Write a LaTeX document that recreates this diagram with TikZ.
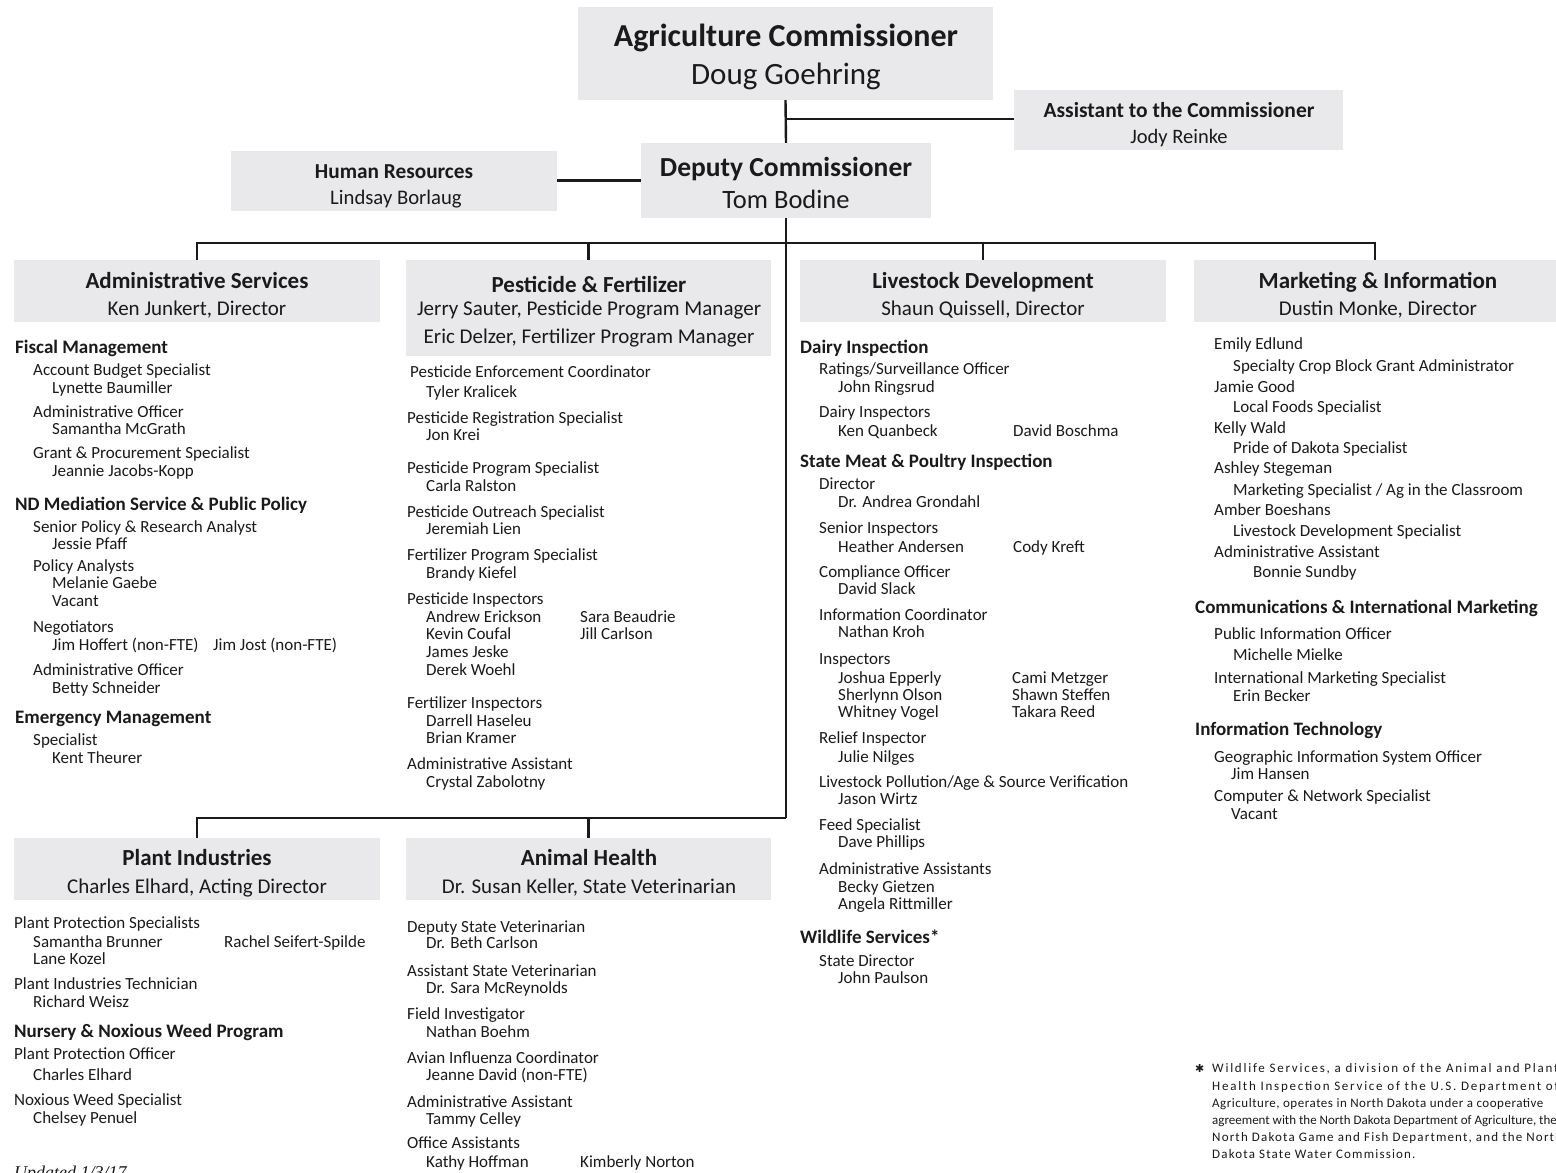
\documentclass[tikz,border=0pt]{standalone}
\usepackage{fontspec}
\setmainfont{Carlito}
\newfontfamily\dejavu{DejaVu Sans}
\newfontfamily\serifit{Liberation Serif}
\usetikzlibrary{fit}
\definecolor{boxgray}{RGB}{233,233,235}
\definecolor{ink}{RGB}{26,26,26}
\tikzset{
  box/.style={fill=boxgray, inner sep=0pt, draw=none},
  conn/.style={draw=ink, line width=2.4pt},
  bigt/.style={anchor=base, inner sep=0pt, text=ink, font=\fontsize{32}{36}\selectfont\bfseries},
  bign/.style={anchor=base, inner sep=0pt, text=ink, font=\fontsize{31}{36}\selectfont},
  bt/.style={anchor=base, inner sep=0pt, text=ink, font=\fontsize{23}{26}\selectfont\bfseries},
  bs/.style={anchor=base, inner sep=0pt, text=ink, font=\fontsize{21}{24}\selectfont},
  itr/.style={anchor=base west, inner sep=0pt, text=ink, font=\fontsize{17}{20}\selectfont},
  ith/.style={anchor=base west, inner sep=0pt, text=ink, font=\fontsize{19}{22}\selectfont\bfseries},
  fn/.style={anchor=base west, inner sep=0pt, text=ink, font=\fontsize{13}{15}\selectfont},
}
\newcommand\entries[2]{\foreach \xx/\yy/\ss/\tt [count=\i] in {#2}{\node[it\ss] (#1-\i) at (\xx,\yy) {\tt};}}
\begin{document}
\begin{tikzpicture}[x=1pt,y=-1pt]
\useasboundingbox (0,0) rectangle (1556,1173);
\fill[white] (0,0) rectangle (1556,1173);

% ---------- boxes ----------
\node[box, fit={(578,7) (993,100)}] (ag) {};
\node[box, fit={(1014,90) (1343,150)}] (asst) {};
\node[box, fit={(641,143) (931,218)}] (dep) {};
\node[box, fit={(231,151) (557,211)}] (hr) {};
\node[box, fit={(14,260) (380,322)}] (adm) {};
\node[box, fit={(406,260) (771,356)}] (pf) {};
\node[box, fit={(800,260) (1166,322)}] (ld) {};
\node[box, fit={(1194,260) (1556,322)}] (mk) {};
\node[box, fit={(14,838) (380,900)}] (pi) {};
\node[box, fit={(406,838) (771,900)}] (ah) {};

% ---------- box texts ----------
\node[bigt] (agt) at (786,46) {Agriculture Commissioner};
\node[bign] (agn) at (786,84) {Doug Goehring};
\node[bt, font=\fontsize{21.5}{24}\selectfont\bfseries] (asstt) at (1179,117) {Assistant to the Commissioner};
\node[bs, font=\fontsize{20.5}{24}\selectfont] (asstn) at (1179,143) {Jody Reinke};
\node[bt, font=\fontsize{27.5}{30}\selectfont\bfseries] (dept) at (786,176) {Deputy Commissioner};
\node[bs, font=\fontsize{26.5}{30}\selectfont] (depn) at (786,208) {Tom Bodine};
\node[bt, font=\fontsize{21.3}{24}\selectfont\bfseries] (hrt) at (394,178) {Human Resources};
\node[bs, font=\fontsize{20.7}{24}\selectfont] (hrn) at (396,204) {Lindsay Borlaug};

\node[bt] (admt) at (197,288) {Administrative Services};
\node[bs] (admn) at (197,315) {Ken Junkert, Director};
\node[bt] (pft) at (589,292) {Pesticide \& Fertilizer};
\node[bs] (pfn1) at (589,315) {Jerry Sauter, Pesticide Program Manager};
\node[bs] (pfn2) at (589,343) {Eric Delzer, Fertilizer Program Manager};
\node[bt] (ldt) at (983,288) {Livestock Development};
\node[bs] (ldn) at (983,315) {Shaun Quissell, Director};
\node[bt] (mkt) at (1378,288) {Marketing \& Information};
\node[bs] (mkn) at (1378,315) {Dustin Monke, Director};
\node[bt] (pit) at (197,865) {Plant Industries};
\node[bs] (pin) at (197,893) {Charles Elhard, Acting Director};
\node[bt] (aht) at (589,865) {Animal Health};
\node[bs] (ahn) at (589,893) {Dr. Susan Keller, State Veterinarian};

% ---------- connectors ----------
\coordinate (jA) at (786,119);
\coordinate (jT) at (786,243);
\coordinate (jB) at (786,818);
\draw[conn] (ag.south) -- (dep.north);
\draw[conn] (jA) -- (jA -| asst.west);
\draw[conn] (hr.east |- dep.west) -- (dep.west);
\draw[conn] (dep.south) -- (jB);
\draw[conn] (adm.north) |- (jT) -- (jT -| mk.north) -- (mk.north);
\draw[conn] (pf.north) -- (pf.north |- jT);
\draw[conn] (ld.north) -- (ld.north |- jT);
\draw[conn] (pi.north) |- (jB);
\draw[conn] (ah.north) -- (ah.north |- jB);

% ---------- Administrative Services ----------
\entries{a}{15/353/h/Fiscal Management,
33/375/r/Account Budget Specialist,
52/393/r/Lynette Baumiller,
33/417/r/Administrative Officer,
52/434/r/Samantha McGrath,
33/458/r/Grant \& Procurement Specialist,
52/476/r/Jeannie Jacobs-Kopp,
15/510/h/ND Mediation Service \& Public Policy,
33/532/r/Senior Policy \& Research Analyst,
52/549/r/Jessie Pfaff,
33/571/r/Policy Analysts,
52/588/r/Melanie Gaebe,
52/606/r/Vacant,
33/632/r/Negotiators,
52/650/r/Jim Hoffert (non-FTE),
213/650/r/Jim Jost (non-FTE),
33/675/r/Administrative Officer,
52/693/r/Betty Schneider,
15/723/h/Emergency Management,
33/745/r/Specialist,
52/763/r/Kent Theurer}

% ---------- Pesticide & Fertilizer ----------
\entries{p}{410/377/r/Pesticide Enforcement Coordinator,
426/397/r/Tyler Kralicek,
407/423/r/Pesticide Registration Specialist,
426/440/r/Jon Krei,
407/473/r/Pesticide Program Specialist,
426/491/r/Carla Ralston,
407/517/r/Pesticide Outreach Specialist,
426/534/r/Jeremiah Lien,
407/560/r/Fertilizer Program Specialist,
426/578/r/Brandy Kiefel,
407/604/r/Pesticide Inspectors,
426/622/r/Andrew Erickson,
580/622/r/Sara Beaudrie,
426/639/r/Kevin Coufal,
580/639/r/Jill Carlson,
426/657/r/James Jeske,
426/675/r/Derek Woehl,
407/708/r/Fertilizer Inspectors,
426/726/r/Darrell Haseleu,
426/743/r/Brian Kramer,
407/769/r/Administrative Assistant,
426/787/r/Crystal Zabolotny}

% ---------- Livestock Development ----------
\entries{l}{800/353/h/Dairy Inspection,
819/374/r/{Ratings/Surveillance Officer},
838/392/r/John Ringsrud,
819/417/r/Dairy Inspectors,
838/436/r/Ken Quanbeck,
1013/436/r/David Boschma,
800/467/h/State Meat \& Poultry Inspection,
819/489/r/Director,
838/507/r/Dr. Andrea Grondahl,
819/533/r/Senior Inspectors,
838/552/r/Heather Andersen,
1013/552/r/Cody Kreft,
819/577/r/Compliance Officer,
838/594/r/David Slack,
819/620/r/Information Coordinator,
838/637/r/Nathan Kroh,
819/664/r/Inspectors,
838/683/r/Joshua Epperly,
1012/683/r/Cami Metzger,
838/700/r/Sherlynn Olson,
1012/700/r/Shawn Steffen,
838/717/r/Whitney Vogel,
1012/717/r/Takara Reed,
819/743/r/Relief Inspector,
838/762/r/Julie Nilges,
819/787/r/{Livestock Pollution/Age \& Source Verification},
838/804/r/Jason Wirtz,
819/830/r/Feed Specialist,
838/847/r/Dave Phillips,
819/874/r/Administrative Assistants,
838/892/r/Becky Gietzen,
838/909/r/Angela Rittmiller,
800/943/h/Wildlife Services*,
819/966/r/State Director,
838/983/r/John Paulson}

% ---------- Marketing & Information ----------
\entries{m}{1214/349/r/Emily Edlund,
1233/371/r/Specialty Crop Block Grant Administrator,
1214/392/r/Jamie Good,
1233/412/r/Local Foods Specialist,
1214/433/r/Kelly Wald,
1233/453/r/Pride of Dakota Specialist,
1214/473/r/Ashley Stegeman,
1233/495/r/{Marketing Specialist / Ag in the Classroom},
1214/515/r/Amber Boeshans,
1233/536/r/Livestock Development Specialist,
1214/557/r/Administrative Assistant,
1253/577/r/Bonnie Sundby,
1195/613/h/Communications \& International Marketing,
1214/639/r/Public Information Officer,
1233/660/r/Michelle Mielke,
1214/683/r/International Marketing Specialist,
1233/701/r/Erin Becker,
1195/735/h/Information Technology,
1214/762/r/Geographic Information System Officer,
1231/779/r/Jim Hansen,
1214/801/r/Computer \& Network Specialist,
1231/819/r/Vacant}

% ---------- Plant Industries ----------
\entries{q}{14/928/r/Plant Protection Specialists,
33/947/r/Samantha Brunner,
224/947/r/Rachel Seifert-Spilde,
33/964/r/Lane Kozel,
14/989/r/Plant Industries Technician,
33/1007/r/Richard Weisz,
14/1037/h/Nursery \& Noxious Weed Program,
14/1059/r/Plant Protection Officer,
33/1080/r/Charles Elhard,
14/1105/r/Noxious Weed Specialist,
33/1123/r/Chelsey Penuel}

% ---------- Animal Health ----------
\entries{h}{407/932/r/Deputy State Veterinarian,
426/948/r/Dr. Beth Carlson,
407/976/r/Assistant State Veterinarian,
426/993/r/Dr. Sara McReynolds,
407/1019/r/Field Investigator,
426/1037/r/Nathan Boehm,
407/1063/r/Avian Influenza Coordinator,
426/1080/r/Jeanne David (non-FTE),
407/1107/r/Administrative Assistant,
426/1124/r/Tammy Celley,
407/1148/r/Office Assistants,
426/1167/r/Kathy Hoffman,
580/1167/r/Kimberly Norton}

% ---------- footnote ----------
\node[fn, font=\dejavu\fontsize{11}{13}\selectfont] (fnb) at (1195,1072) {✱};
\node[fn, font=\fontsize{13}{15}\selectfont\addfontfeature{LetterSpace=13.5}] (fn1) at (1212,1072) {Wildlife Services, a division of the Animal and Plant};
\node[fn, font=\fontsize{13}{15}\selectfont\addfontfeature{LetterSpace=13.5}] (fn2) at (1212,1090) {Health Inspection Service of the U.S. Department of};
\node[fn, font=\fontsize{13}{15}\selectfont\addfontfeature{LetterSpace=4}] (fn3) at (1212,1107) {Agriculture, operates in North Dakota under a cooperative};
\node[fn, font=\fontsize{13}{15}\selectfont\addfontfeature{LetterSpace=0}] (fn4) at (1212,1124) {agreement with the North Dakota Department of Agriculture, the};
\node[fn, font=\fontsize{13}{15}\selectfont\addfontfeature{LetterSpace=9}] (fn5) at (1212,1141) {North Dakota Game and Fish Department, and the North};
\node[fn, font=\fontsize{13}{15}\selectfont\addfontfeature{LetterSpace=9}] (fn6) at (1212,1158) {Dakota State Water Commission.};

% ---------- updated ----------
\node[anchor=base west, inner sep=0pt, text=ink, font=\serifit\itshape\fontsize{18}{20}\selectfont] (upd) at (14,1178) {Updated 1/3/17};
\end{tikzpicture}
\end{document}
